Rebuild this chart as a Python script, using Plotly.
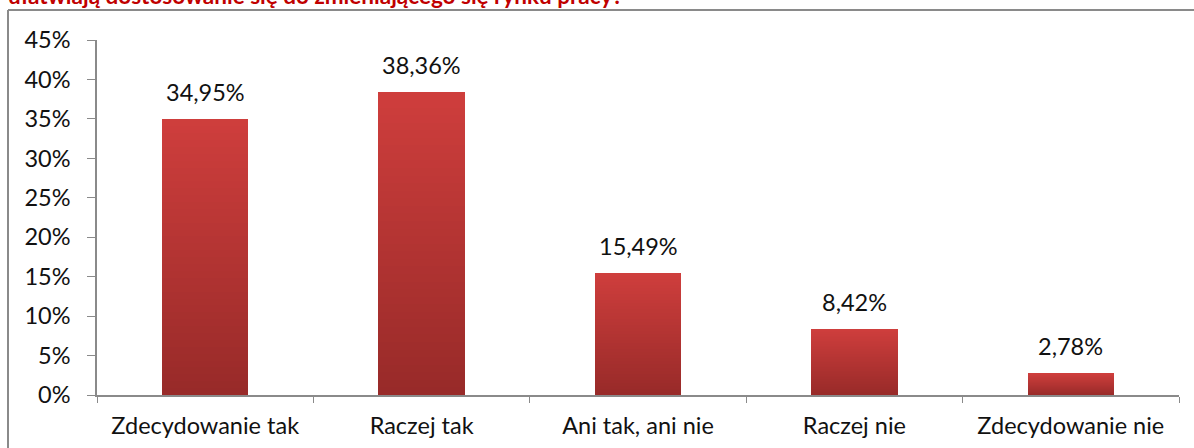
import plotly.graph_objects as go

# Survey answers and their shares (in percent)
categories = ["Zdecydowanie tak", "Raczej tak", "Ani tak, ani nie", "Raczej nie", "Zdecydowanie nie"]
shares = [34.95, 38.36, 15.49, 8.42, 2.78]
y_ticks = [0, 5, 10, 15, 20, 25, 30, 35, 40, 45]
question = "ułatwiają dostosowanie się do zmieniającego się rynku pracy?"

FONT = "Lato"
FS = 23.5
W, H = 1194, 448
ML, MR, MT, MB = 97, 15, 40, 53
plot_w = W - ML - MR
plot_h = H - MT - MB


def px_x(px):
    return (px - ML) / plot_w


def px_y(py):
    return (H - MB - py) / plot_h


# Vertical gradient on each bar: stacked slices from dark red (bottom) to light red (top)
N_SLICES = 40
bottom_rgb = (152, 42, 41)
top_rgb = (206, 62, 60)

fig = go.Figure()
for i in range(N_SLICES):
    t = i / (N_SLICES - 1)
    rgb = tuple(round(b + (u - b) * t) for b, u in zip(bottom_rgb, top_rgb))
    fig.add_trace(go.Bar(
        x=categories,
        y=[v / N_SLICES for v in shares],
        marker=dict(color="rgb(%d,%d,%d)" % rgb, line=dict(width=0)),
        width=0.4,
        showlegend=False,
        hoverinfo="skip",
    ))

# Value labels above the bars
for cat, v in zip(categories, shares):
    fig.add_annotation(
        x=cat, y=v, xref="x", yref="y",
        text=("%.2f%%" % v).replace(".", ","),
        showarrow=False, yanchor="bottom", yshift=11,
        font=dict(family=FONT, size=FS, color="#111111"),
    )

# Question text, partly cut off at the top of the frame
fig.add_annotation(
    x=px_x(6), y=px_y(11), xref="paper", yref="paper",
    text="<b>%s</b>" % question, showarrow=False,
    xanchor="left", yanchor="bottom",
    font=dict(family=FONT, size=22.5, color="#C00000"),
)

# Outer frame of the chart
frame = dict(color="#8a8a8a", width=2)
fig.add_shape(type="line", xref="paper", yref="paper",
              x0=px_x(8), x1=px_x(1200), y0=px_y(10), y1=px_y(10), line=frame)
fig.add_shape(type="line", xref="paper", yref="paper",
              x0=px_x(8), x1=px_x(8), y0=px_y(10), y1=px_y(460), line=frame)

fig.update_layout(
    width=W, height=H,
    margin=dict(l=ML, r=MR, t=MT, b=MB, autoexpand=False),
    barmode="stack",
    bargap=0.6,
    plot_bgcolor="white",
    paper_bgcolor="white",
    font=dict(family=FONT, size=FS, color="#111111"),
    xaxis=dict(
        type="category", automargin=False,
        showline=True, linecolor="#8a8a8a", linewidth=1.5,
        ticks="outside", tickson="boundaries", ticklen=6, tickcolor="#8a8a8a",
        showgrid=False, ticklabelstandoff=9,
        tickfont=dict(family=FONT, size=FS, color="#111111"),
    ),
    yaxis=dict(
        range=[0, 45], automargin=False,
        tickvals=y_ticks,
        ticktext=["%d%%" % t for t in y_ticks],
        showline=True, linecolor="#8a8a8a", linewidth=1.5,
        ticks="outside", ticklen=8, tickcolor="#8a8a8a",
        showgrid=False, zeroline=False, ticklabelstandoff=12,
        tickfont=dict(family=FONT, size=FS, color="#111111"),
    ),
)

fig.write_html("out.html")
